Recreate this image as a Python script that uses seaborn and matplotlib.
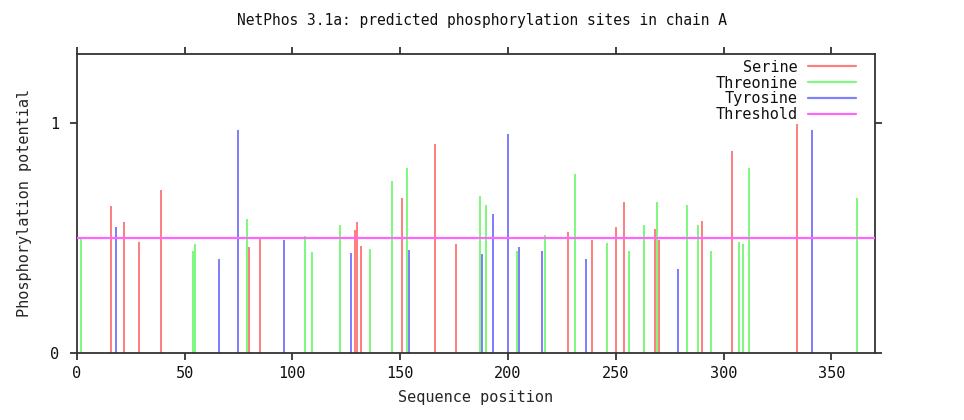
import numpy as np
import pandas as pd
import matplotlib
matplotlib.use("Agg")
import matplotlib.pyplot as plt
from matplotlib.lines import Line2D
import seaborn as sns

# ---- data ----
serine_pos = [16, 22, 29, 39, 80, 85, 129, 130, 132, 151, 166, 176, 228, 239, 250, 254, 268, 270, 290, 304, 334]
serine_val = [0.638, 0.570, 0.484, 0.706, 0.460, 0.500, 0.533, 0.570, 0.465, 0.674, 0.909, 0.471, 0.526, 0.490,
              0.545, 0.657, 0.539, 0.490, 0.575, 0.877, 0.995]
threonine_pos = [2, 54, 55, 79, 106, 109, 122, 136, 146, 153, 187, 190, 204, 217, 231, 246, 256, 263, 269,
                 283, 288, 294, 307, 309, 312, 362]
threonine_val = [0.497, 0.441, 0.471, 0.583, 0.507, 0.439, 0.557, 0.452, 0.748, 0.804, 0.681, 0.643, 0.441,
                 0.513, 0.778, 0.477, 0.441, 0.557, 0.655, 0.642, 0.557, 0.441, 0.483, 0.471, 0.803, 0.674]
tyrosine_pos = [18, 66, 75, 96, 127, 154, 188, 193, 200, 205, 216, 236, 279, 341]
tyrosine_val = [0.545, 0.410, 0.971, 0.490, 0.435, 0.447, 0.429, 0.602, 0.951, 0.460, 0.441, 0.410, 0.365, 0.970]
threshold = 0.5

residues = ["Serine", "Threonine", "Tyrosine"]
x_ticks = [0, 50, 100, 150, 200, 250, 300, 350]
y_ticks = [0, 1]
title = "NetPhos 3.1a: predicted phosphorylation sites in chain A"
x_label = "Sequence position"
y_label = "Phosphorylation potential"

colors = {"Serine": "#ff8080", "Threonine": "#80f880", "Tyrosine": "#8080ff"}
thr_color = "#ff66ff"

df = pd.concat([
    pd.DataFrame({"position": serine_pos, "potential": serine_val, "residue": "Serine"}),
    pd.DataFrame({"position": threonine_pos, "potential": threonine_val, "residue": "Threonine"}),
    pd.DataFrame({"position": tyrosine_pos, "potential": tyrosine_val, "residue": "Tyrosine"}),
], ignore_index=True)

sns.set_theme(style="ticks")
plt.rcParams["font.family"] = ["DejaVu Sans Mono"]
plt.rcParams["text.color"] = "#111111"

FIG_W, FIG_H, DPI = 9.64, 4.2, 100
AX_RECT = [0.0796, 0.1602, 0.8276, 0.7112]
XLIM = (0, 370)

fig = plt.figure(figsize=(FIG_W, FIG_H), dpi=DPI)
fig.patch.set_facecolor("white")
ax = fig.add_axes(AX_RECT)
ax.set_facecolor("white")

# stems exactly 2 pixels wide
px_per_unit = AX_RECT[2] * FIG_W * DPI / (XLIM[1] - XLIM[0])
stem_shrink = 2.0 / px_per_unit

sns.histplot(data=df, x="position", weights="potential", hue="residue", hue_order=residues,
             discrete=True, multiple="layer", shrink=stem_shrink, element="bars", palette=colors,
             alpha=1.0, linewidth=0, legend=False, ax=ax)
for p in ax.patches:
    p.set_snap(True)

ax.axhline(threshold, color=thr_color, lw=1.6, zorder=3)

ax.set_xlim(*XLIM)
ax.set_ylim(0, 1.3)
ax.set_xticks(x_ticks)
ax.set_xticklabels([str(t) for t in x_ticks])
ax.set_yticks(y_ticks)
ax.set_yticklabels([str(t) for t in y_ticks])

for s in ax.spines.values():
    s.set_visible(True)
    s.set_color("#333333")
    s.set_linewidth(1.3)
ax.tick_params(axis="both", which="both", direction="out", length=4.8, width=1.3, color="#333333",
               top=True, right=True, labelsize=11, labelcolor="#111111")
ax.tick_params(axis="x", pad=5)
ax.tick_params(axis="y", pad=8)

ax.set_xlabel(x_label, fontsize=11, labelpad=6)
ax.set_ylabel(y_label, fontsize=11, labelpad=13)
fig.suptitle(title, fontsize=10.5, y=1 - 20 / 420, va="center")

handles = [Line2D([], [], color=colors[r], lw=1.6) for r in residues]
handles.append(Line2D([], [], color=thr_color, lw=1.6))
labels = residues + ["Threshold"]
ax.legend(handles, labels, loc="upper right", bbox_to_anchor=(0.9764, 0.9806), frameon=False,
          markerfirst=False, handlelength=3.1, handletextpad=0.7, labelspacing=0.05,
          borderpad=0, borderaxespad=0, fontsize=11)

fig.savefig("out.png", dpi=DPI, facecolor="white")
